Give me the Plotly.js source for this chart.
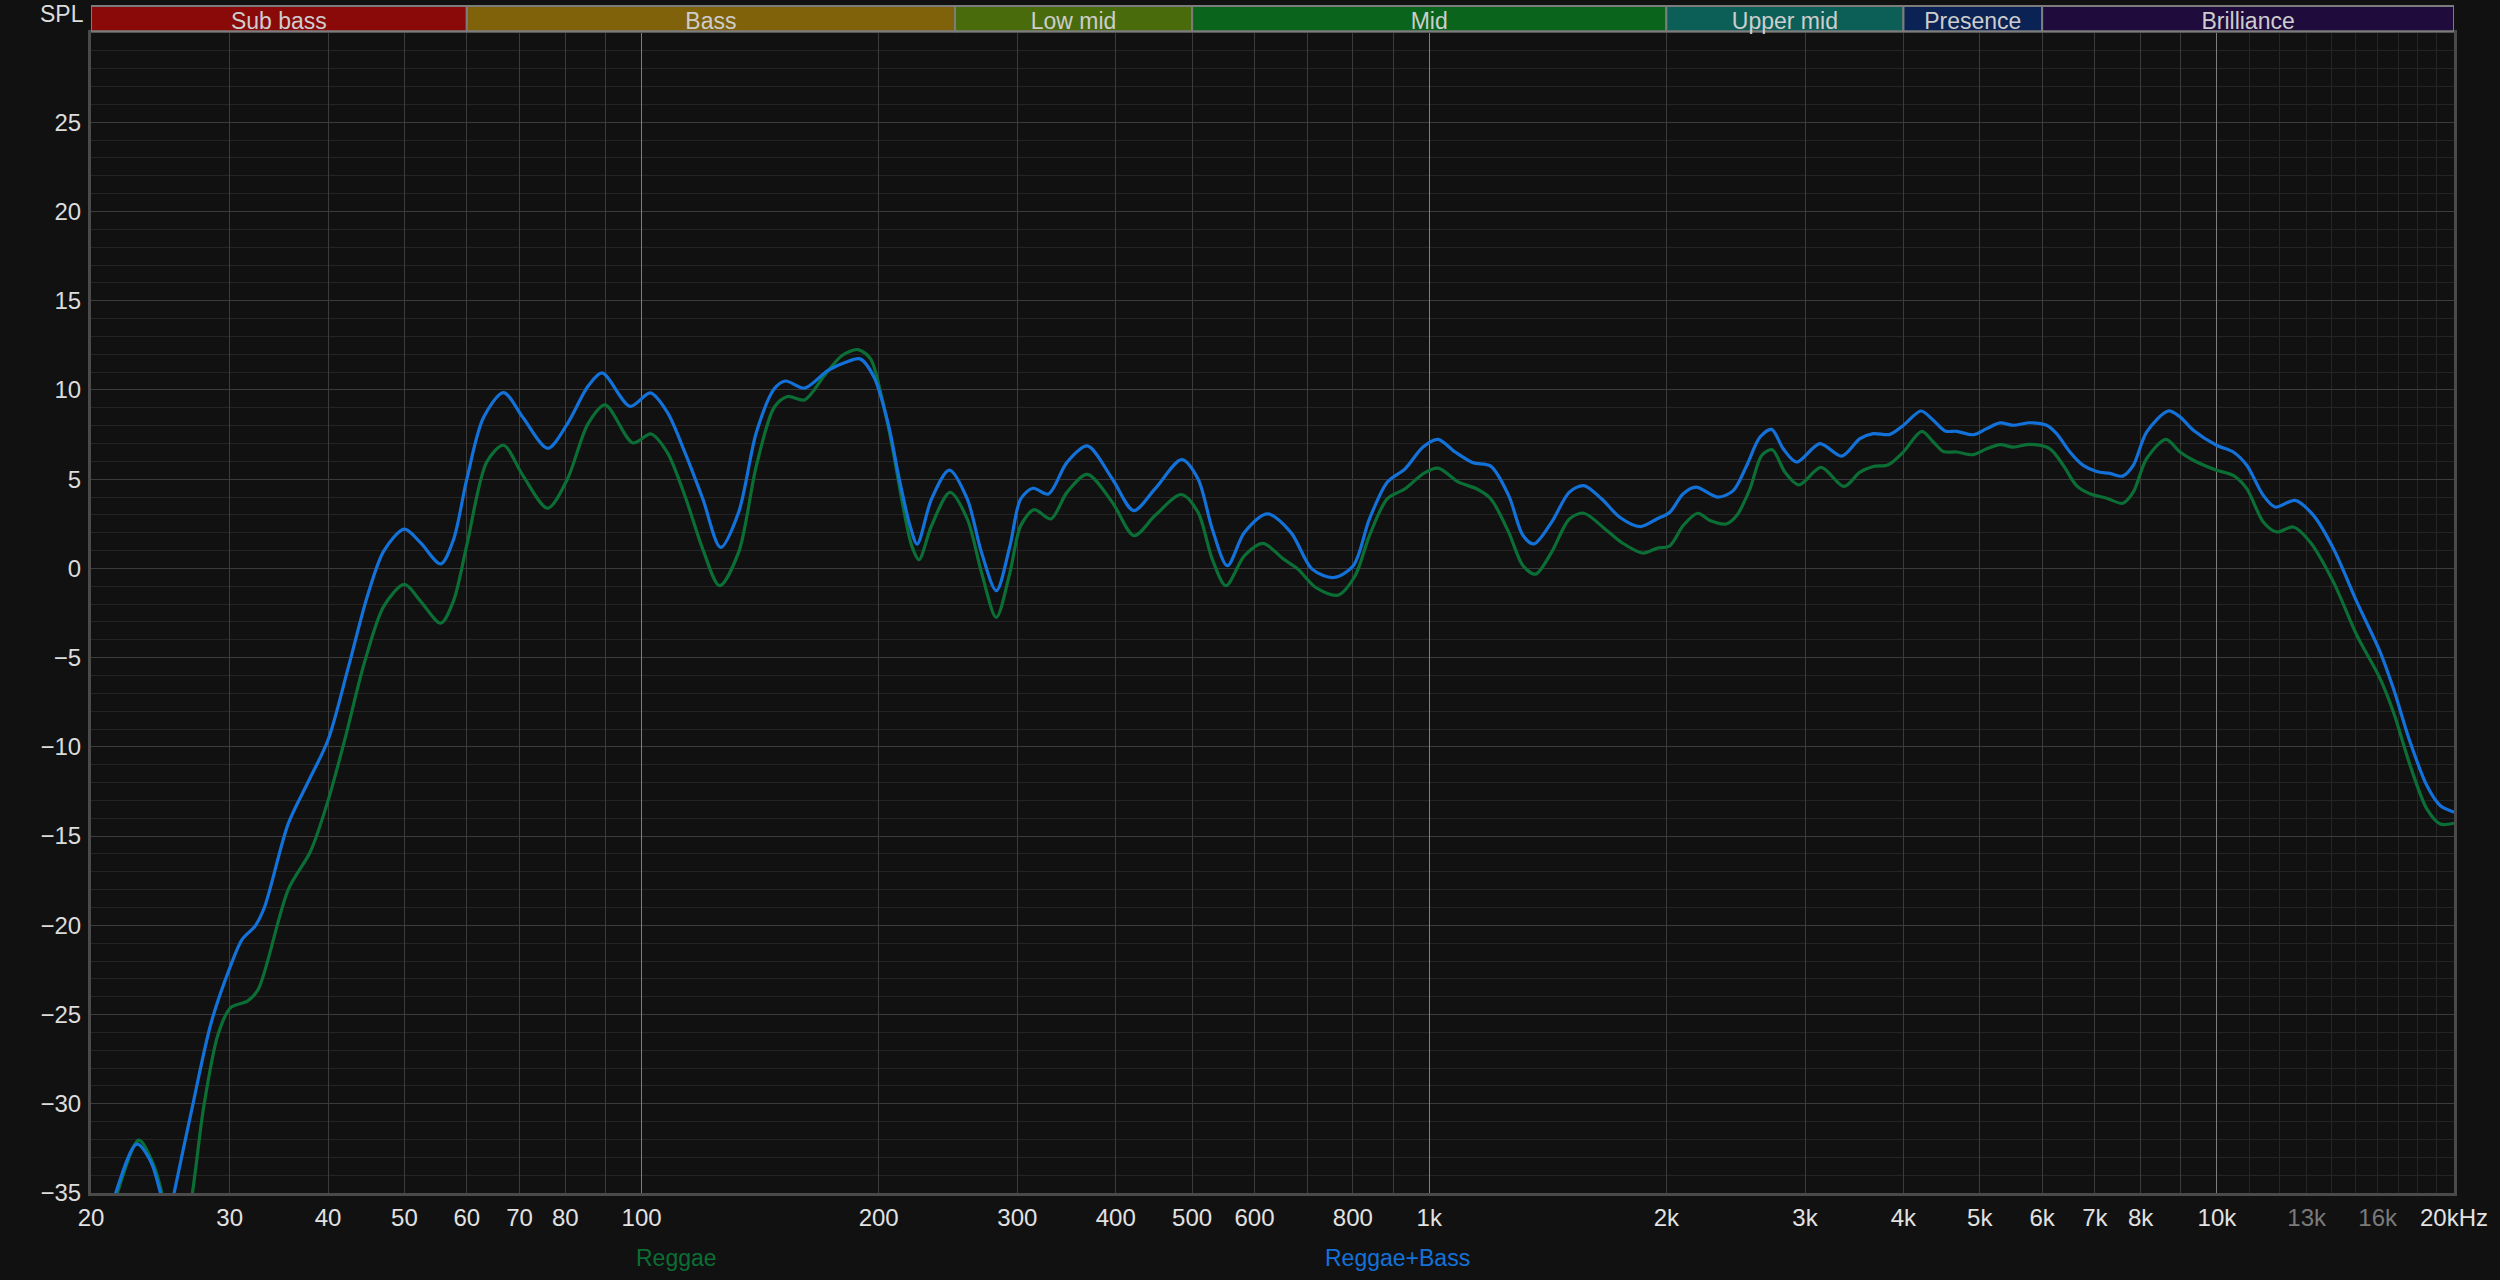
<!DOCTYPE html>
<html>
<head>
<meta charset="utf-8">
<script src="https://cdn.plot.ly/plotly-3.0.1.min.js"></script>
<style>
  html, body { margin: 0; padding: 0; background: #111111; }
  #chart { width: 2500px; height: 1280px; }
</style>
</head>
<body>
<div id="chart"></div>
<script>
// ---------------- DATA ----------------
const freqBass = [20, 21.5, 22.87, 23.8, 24.5, 25.0, 25.5, 26.8, 28.4, 30, 31.1, 32.3, 33.2, 35.6, 37.7, 40, 42.4, 44.9, 47.1, 50, 52.4, 55.6, 57.7, 60, 63, 66.8, 70.7, 76, 80.5, 85.5, 89.1, 96.7, 102.6, 107.8, 113.5, 119.6, 126, 132.8, 139.9, 147.4, 152.3, 161, 172.3, 181.6, 189.4, 197.4, 205.9, 212.4, 219.2, 223.8, 233.4, 245.9, 259.1, 270.1, 282.1, 293.6, 302.9, 314, 328.5, 346.8, 368, 395.9, 421.4, 448.6, 485.1, 508.6, 530.3, 554.2, 582.8, 623.3, 667.3, 710.1, 756.1, 801, 839.7, 884.5, 931.9, 982, 1026, 1078.7, 1136.5, 1197, 1261.6, 1315.5, 1358.4, 1429.7, 1506.4, 1571, 1654.8, 1747, 1852.6, 1945, 2021, 2101, 2181, 2327, 2432, 2530, 2630, 2721, 2815, 2927, 3133, 3339, 3522, 3662, 3845, 3998, 4211, 4365, 4517, 4674, 4906, 5102, 5305, 5516, 5790, 6079, 6259, 6507, 6765, 7037, 7317, 7592, 7831, 8143, 8677, 8977, 9334, 9990, 10490, 10912, 11453, 11853, 12569, 13262, 14061, 15060, 16119, 16758, 17595, 18474, 19207, 20000];
const splBass = [-41, -35, -32.26, -33.2, -35, -37, -35, -30.5, -25.5, -22.4, -20.8, -20.05, -19.0, -14.3, -12.0, -9.6, -5.6, -1.5, 1.0, 2.2, 1.44, 0.25, 1.6, 5.0, 8.45, 9.85, 8.45, 6.73, 8.1, 10.2, 10.95, 9.08, 9.83, 8.75, 6.5, 3.9, 1.18, 3.14, 7.63, 10.06, 10.5, 10.1, 11.08, 11.55, 11.74, 10.7, 8.0, 5.0, 2.39, 1.36, 3.89, 5.51, 3.89, 0.9, -1.25, 1.27, 3.89, 4.49, 4.17, 5.94, 6.86, 5.02, 3.24, 4.46, 6.09, 5.02, 2.21, 0.15, 2.02, 3.05, 2.02, -0.04, -0.51, 0.15, 2.77, 4.83, 5.58, 6.8, 7.23, 6.52, 5.92, 5.73, 4.08, 1.84, 1.37, 2.58, 4.27, 4.64, 3.9, 2.85, 2.34, 2.77, 3.15, 4.18, 4.55, 3.99, 4.36, 5.77, 7.36, 7.79, 6.7, 5.96, 6.99, 6.29, 7.27, 7.55, 7.51, 8.01, 8.82, 8.3, 7.7, 7.68, 7.49, 7.83, 8.15, 8.02, 8.16, 8.02, 7.55, 6.52, 5.77, 5.43, 5.32, 5.17, 5.77, 7.64, 8.82, 8.49, 7.74, 6.9, 6.52, 5.78, 4.09, 3.44, 3.81, 2.97, 1.1, -1.89, -4.69, -6.75, -9.74, -12.17, -13.29, -13.66];

const freqReggae = [20, 21.6, 23.0, 23.9, 24.6, 25.7, 26.9, 27.8, 29.0, 30.1, 31.6, 32.6, 35.6, 38, 40, 42, 44.5, 47.1, 50, 52.4, 55.6, 57.7, 60, 63.6, 66.8, 70.7, 76, 80.5, 85.5, 89.9, 97.5, 102.8, 107.8, 113.5, 119.6, 125.6, 132.8, 139.9, 147.4, 153.3, 161, 170.6, 179.7, 188.3, 195.3, 201.6, 208, 214.7, 220.3, 225, 233.4, 246.4, 259.1, 270.1, 282.1, 293.6, 302.9, 315.1, 330.9, 346.8, 368, 395.9, 422, 448.6, 484.5, 508.6, 530.3, 551.9, 582.8, 615, 653.3, 681.2, 717.8, 765.6, 805.3, 839.7, 884.5, 931.9, 982, 1026, 1089.9, 1148.3, 1197, 1261.6, 1315.5, 1364.7, 1429.7, 1506.4, 1571, 1671.8, 1755, 1867, 1945, 2021, 2101, 2192, 2272, 2381, 2457, 2554, 2643, 2726, 2829, 2947, 3143, 3362, 3522, 3662, 3827, 3998, 4220, 4365, 4495, 4674, 4906, 5102, 5305, 5516, 5790, 6139, 6383, 6635, 6901, 7247, 7592, 7831, 8143, 8617, 8977, 9334, 9990, 10490, 10912, 11453, 11910, 12507, 13132, 14061, 15060, 16119, 16758, 17595, 18474, 19207, 20000];
const splReggae = [-41, -35, -32.04, -33.2, -35, -40, -35, -30.2, -26.1, -24.6, -24.25, -23.6, -18.0, -15.85, -13.0, -9.6, -5.25, -2.1, -0.9, -1.83, -3.07, -1.83, 1.3, 5.96, 6.9, 5.2, 3.37, 5.0, 8.1, 9.16, 7.03, 7.53, 6.5, 4.07, 1.08, -0.97, 0.9, 5.76, 9.03, 9.63, 9.44, 10.8, 11.93, 12.26, 11.74, 9.68, 6.88, 3.51, 1.27, 0.49, 2.39, 4.26, 2.77, -0.22, -2.75, -0.22, 2.39, 3.29, 2.77, 4.26, 5.27, 3.71, 1.84, 2.96, 4.14, 3.15, 0.52, -0.97, 0.71, 1.4, 0.52, -0.04, -1.07, -1.5, -0.41, 1.84, 3.9, 4.46, 5.3, 5.62, 4.83, 4.46, 3.9, 2.02, 0.15, -0.32, 0.9, 2.77, 3.09, 2.21, 1.45, 0.86, 1.12, 1.27, 2.4, 3.09, 2.68, 2.49, 2.96, 4.46, 6.33, 6.65, 5.39, 4.68, 5.66, 4.59, 5.39, 5.71, 5.81, 6.52, 7.68, 7.08, 6.55, 6.52, 6.37, 6.7, 6.93, 6.8, 6.95, 6.7, 5.77, 4.64, 4.18, 3.93, 3.65, 4.27, 6.15, 7.23, 6.52, 6.06, 5.5, 5.21, 4.47, 2.6, 2.04, 2.32, 1.48, -0.77, -3.76, -6.19, -8.06, -11.05, -13.48, -14.32, -14.28];

const tickFreqs = [20, 30, 40, 50, 60, 70, 80, 100, 200, 300, 400, 500, 600, 800, 1000, 2000, 3000, 4000, 5000, 6000, 7000, 8000, 10000, 13000, 16000, 20000];
const tickLabels = ['20', '30', '40', '50', '60', '70', '80', '100', '200', '300', '400', '500', '600', '800', '1k', '2k', '3k', '4k', '5k', '6k', '7k', '8k', '10k', '<span style="color:#7a7a7a">13k</span>', '<span style="color:#7a7a7a">16k</span>', '20kHz'];
const gridFreqs = [30, 40, 50, 60, 70, 80, 90, 200, 300, 400, 500, 600, 700, 800, 900, 2000, 3000, 4000, 5000, 6000, 7000, 8000, 9000];
const brightFreqs = [100, 1000, 10000];
const fineFreqs = [11000, 12000, 13000, 14000, 15000, 16000, 17000, 18000, 19000];
const splTicks = [-35, -30, -25, -20, -15, -10, -5, 0, 5, 10, 15, 20, 25];

const bandNames = ['Sub bass', 'Bass', 'Low mid', 'Mid', 'Upper mid', 'Presence', 'Brilliance'];
const bandLow = [20, 60, 250, 500, 2000, 4000, 6000];
const bandHigh = [60, 250, 500, 2000, 4000, 6000, 20000];
const bandColors = ['#8a0909', '#80620a', '#4a6b0b', '#0a641c', '#0b5f57', '#0a2354', '#200b3d'];

const seriesNames = ['Reggae', 'Reggae+Bass'];
const seriesColors = ['#0b6e35', '#1372da'];

// ---------------- CHART ----------------
const FONT = 'Liberation Sans, Arial, sans-serif';
const xr = [Math.log10(20), Math.log10(20000)];

const traces = [
  {x: [], y: [], xaxis: 'x2', yaxis: 'y', type: 'scatter', mode: 'lines', hoverinfo: 'skip', showlegend: false},
  {x: [], y: [], xaxis: 'x3', yaxis: 'y', type: 'scatter', mode: 'lines', hoverinfo: 'skip', showlegend: false},
  {x: freqReggae, y: splReggae, name: seriesNames[0], type: 'scatter', mode: 'lines',
   line: {color: seriesColors[0], width: 3.2, shape: 'spline', smoothing: 0.85}},
  {x: freqBass, y: splBass, name: seriesNames[1], type: 'scatter', mode: 'lines',
   line: {color: seriesColors[1], width: 3.2, shape: 'spline', smoothing: 0.85}}
];

const shapes = bandNames.map((n, i) => ({
  type: 'rect', xref: 'x', yref: 'paper',
  x0: bandLow[i], x1: bandHigh[i], y0: 1.0015, y1: 1.0233,
  fillcolor: bandColors[i], line: {color: '#7c7c7c', width: 2}, layer: 'above',
  label: {text: n, font: {family: FONT, size: 23, color: '#cdcdcd'}, textposition: 'middle center'}
}));

const layout = {
  width: 2500, height: 1280,
  paper_bgcolor: '#111111', plot_bgcolor: '#111111',
  margin: {l: 91, r: 46, t: 33, b: 87},
  showlegend: false,
  font: {family: FONT, size: 24, color: '#dcdcdc'},
  xaxis: {
    type: 'log', range: xr, tickmode: 'array', tickvals: gridFreqs,
    showticklabels: false, showgrid: true, gridcolor: '#3b3b3b', gridwidth: 1,
    minor: {tickmode: 'array', tickvals: fineFreqs, showgrid: true, gridcolor: '#262626', gridwidth: 1},
    showline: true, mirror: true, linecolor: '#4a4a4a', linewidth: 3, zeroline: false, ticks: ''
  },
  xaxis2: {
    type: 'log', range: xr, overlaying: 'x', anchor: 'y', tickmode: 'array', tickvals: brightFreqs,
    showticklabels: false, showgrid: true, gridcolor: '#7e7e7e', gridwidth: 1.2,
    showline: false, zeroline: false, ticks: ''
  },
  xaxis3: {
    type: 'log', range: xr, overlaying: 'x', anchor: 'y', side: 'bottom', tickmode: 'array',
    tickvals: tickFreqs, ticktext: tickLabels, showgrid: false, showline: false, zeroline: false,
    ticks: '', tickfont: {family: FONT, size: 24, color: '#e2e2e2'}, ticklabelstandoff: 8
  },
  yaxis: {
    range: [-35, 30], tickmode: 'array', tickvals: splTicks, showgrid: true, gridcolor: '#3b3b3b', gridwidth: 1,
    minor: {tickmode: 'linear', dtick: 1, tick0: 0, showgrid: true, gridcolor: '#242424', gridwidth: 1},
    showline: true, mirror: true, linecolor: '#4a4a4a', linewidth: 3, zeroline: false, ticks: '',
    tickfont: {family: FONT, size: 24, color: '#dcdcdc'}, ticklabelstandoff: 2
  },
  shapes: shapes,
  annotations: [
    {xref: 'paper', yref: 'paper', x: 0, y: 1.0164, xanchor: 'right', yanchor: 'middle', xshift: -5,
     text: 'SPL', showarrow: false, font: {family: FONT, size: 23, color: '#dcdcdc'}},
    {xref: 'paper', yref: 'paper', x: 0.2476, y: 0, xanchor: 'center', yanchor: 'middle', yshift: -65,
     text: seriesNames[0], showarrow: false, font: {family: FONT, size: 23, color: seriesColors[0]}},
    {xref: 'paper', yref: 'paper', x: 0.5527, y: 0, xanchor: 'center', yanchor: 'middle', yshift: -65,
     text: seriesNames[1], showarrow: false, font: {family: FONT, size: 23, color: seriesColors[1]}}
  ]
};

Plotly.newPlot('chart', traces, layout, {displayModeBar: false, staticPlot: true});
</script>
</body>
</html>
